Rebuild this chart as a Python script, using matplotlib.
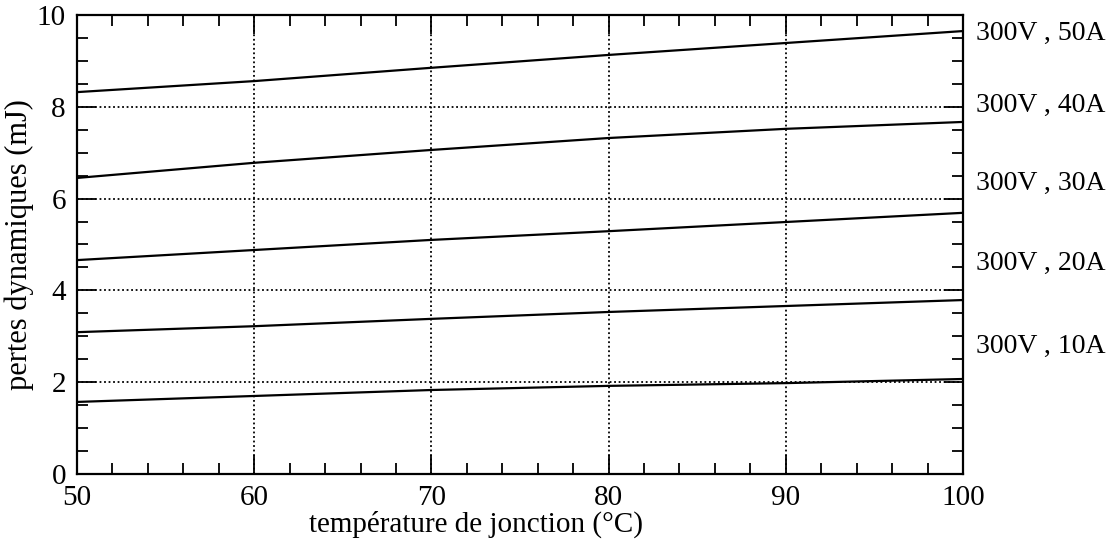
import matplotlib
matplotlib.use("Agg")
import matplotlib.pyplot as plt
from matplotlib.ticker import MultipleLocator

temperature = [50, 60, 70, 80, 90, 100]
losses_10A = [1.57, 1.70, 1.83, 1.92, 1.98, 2.07]
losses_20A = [3.09, 3.22, 3.38, 3.53, 3.66, 3.79]
losses_30A = [4.66, 4.88, 5.10, 5.29, 5.49, 5.69]
losses_40A = [6.45, 6.78, 7.06, 7.32, 7.52, 7.67]
losses_50A = [8.32, 8.56, 8.85, 9.13, 9.39, 9.65]
series = [losses_10A, losses_20A, losses_30A, losses_40A, losses_50A]
labels = ["300V , 10A", "300V , 20A", "300V , 30A", "300V , 40A", "300V , 50A"]
label_y = [2.79, 4.58, 6.34, 8.04, 9.6]

plt.rcParams['font.family'] = ['Liberation Serif', 'DejaVu Serif']

fig = plt.figure(figsize=(11.16, 5.45), dpi=100)
ax = fig.add_axes([77/1116, 71/545, (963-77)/1116, (474-15)/545])

for s in series:
    ax.plot(temperature, s, color='black', lw=1.6)

ax.set_xlim(50, 100)
ax.set_ylim(0, 10)
ax.xaxis.set_major_locator(MultipleLocator(10))
ax.xaxis.set_minor_locator(MultipleLocator(2))
ax.yaxis.set_major_locator(MultipleLocator(2))
ax.yaxis.set_minor_locator(MultipleLocator(0.5))
ax.grid(True, which='major', color='black', linestyle=(0, (1, 1.5)), lw=1.3)
ax.tick_params(which='both', direction='in', top=True, right=True, width=1.3,
               labelsize=21, colors='black')
ax.tick_params(which='major', length=14, pad=8)
ax.tick_params(which='minor', length=8)
for sp in ax.spines.values():
    sp.set_linewidth(1.6)

for lab, yv in zip(labels, label_y):
    ax.text(1.015, yv, lab, transform=ax.get_yaxis_transform(), fontsize=20,
            va='center', ha='left')

ax.set_xlabel("température de jonction (°C)", fontsize=21, labelpad=0, x=0.45)
ax.set_ylabel("pertes dynamiques (mJ)", fontsize=22, labelpad=2)

fig.savefig("out.png", dpi=100)
